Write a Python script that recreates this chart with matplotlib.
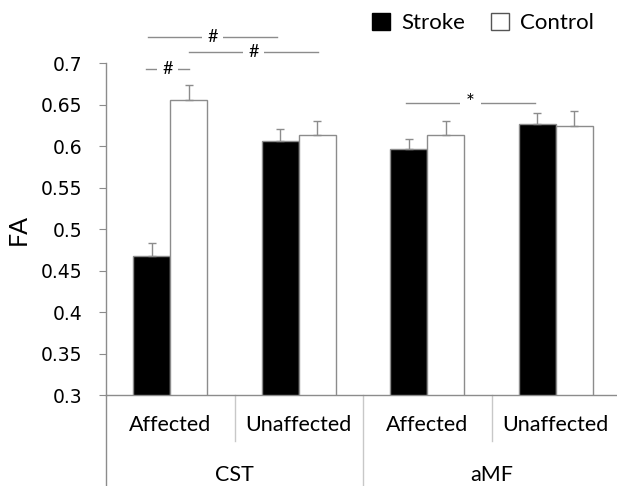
import numpy as np
import matplotlib
matplotlib.use('Agg')
from matplotlib import pyplot as plt
from matplotlib.patches import Patch

# data
tracts = ['CST', 'aMF']
sides = ['Affected', 'Unaffected', 'Affected', 'Unaffected']
stroke_fa = [0.468, 0.606, 0.596, 0.626]
stroke_err = [0.015, 0.014, 0.013, 0.014]
control_fa = [0.655, 0.613, 0.613, 0.624]
control_err = [0.018, 0.017, 0.017, 0.018]

# significance brackets: (x start, x end, y, label)
sig_marks = [(-0.19, 0.146, 0.693, '#'),
             (0.146, 1.148, 0.713, '#'),
             (-0.173, 0.829, 0.731, '#'),
             (1.835, 2.838, 0.652, '*')]

grey = '#8c8c8c'
label_font = 'Lato'

fig = plt.figure(figsize=(6.17, 4.86), dpi=100)
ax = fig.add_axes([106 / 617, 1 - 395 / 486, 514 / 617, 332 / 486])

x = np.arange(len(sides))
w = 0.288
ax.bar(x - w / 2, stroke_fa, w, color='black', edgecolor=grey, linewidth=1.0, label='Stroke', zorder=2)
ax.bar(x + w / 2, control_fa, w, color='white', edgecolor=grey, linewidth=1.0, label='Control', zorder=2)
ax.errorbar(x - w / 2, stroke_fa, yerr=[np.zeros(4), stroke_err], fmt='none', ecolor=grey,
            elinewidth=1.0, capsize=3, capthick=1.0, zorder=3)
ax.errorbar(x + w / 2, control_fa, yerr=[np.zeros(4), control_err], fmt='none', ecolor=grey,
            elinewidth=1.0, capsize=3, capthick=1.0, zorder=3)

ax.set_xlim(-0.5, 3.5)
ax.set_ylim(0.3, 0.7)
ax.set_yticks(np.arange(0.3, 0.7001, 0.05))
ax.set_yticklabels(['0.3', '0.35', '0.4', '0.45', '0.5', '0.55', '0.6', '0.65', '0.7'])
ax.tick_params(axis='y', length=5, color=grey, labelsize=13.5, pad=12)
ax.tick_params(axis='x', length=0, labelbottom=False)
for s in ['top', 'right']:
    ax.spines[s].set_visible(False)
for s in ['left', 'bottom']:
    ax.spines[s].set_color(grey)
    ax.spines[s].set_linewidth(1.0)

ax.set_ylabel('FA', fontsize=18, family=label_font, labelpad=8)

# category axis with grouping
tr = ax.get_xaxis_transform()
ax.plot([-0.5, -0.5], [0, -0.28], color=grey, lw=1.0, transform=tr, clip_on=False)
ax.plot([1.5, 1.5], [0, -0.28], color='#c8c8c8', lw=1.0, transform=tr, clip_on=False)
for xs in [0.5, 2.5]:
    ax.plot([xs, xs], [0, -0.139], color='#c8c8c8', lw=1.0, transform=tr, clip_on=False)
for i, s in enumerate(sides):
    ax.text(i, -0.09, s, transform=tr, ha='center', va='center', fontsize=15.5, family=label_font)
for i, t in enumerate(tracts):
    ax.text(2 * i + 0.5, -0.241, t, transform=tr, ha='center', va='center', fontsize=15.5, family=label_font)

# significance markers
for x0, x1, y, lab in sig_marks:
    ax.plot([x0, x1], [y, y], color=grey, lw=1.0, clip_on=False, zorder=1)
    ax.text((x0 + x1) / 2, y, lab, ha='center', va='center', fontsize=13 if lab == '#' else 15,
            family=label_font, bbox=dict(facecolor='white', edgecolor='none', pad=4),
            clip_on=False, zorder=4)

handles = [Patch(facecolor='black', edgecolor='black', label='Stroke'),
           Patch(facecolor='white', edgecolor='#555555', label='Control')]
fig.legend(handles=handles, loc='center left', bbox_to_anchor=(352 / 617, 1 - 23 / 486), ncol=2,
           frameon=False, handlelength=0.8, handleheight=0.8, handletextpad=0.5, columnspacing=1.2,
           prop={'family': label_font, 'size': 16})

fig.savefig('out.png', dpi=100)
